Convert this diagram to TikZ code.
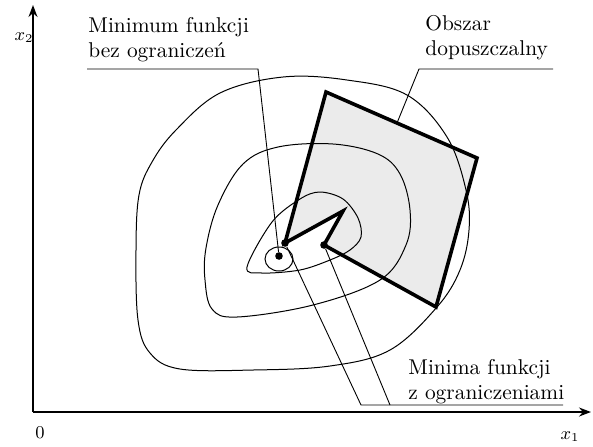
\documentclass[tikz,border=0pt]{standalone}
\usepackage{tikz}
\usetikzlibrary{arrows.meta}

\begin{document}
\begin{tikzpicture}[
  x=0.5pt, y=-0.5pt,
  contour/.style={line width=0.5pt},
  leader/.style={line width=0.45pt},
  axis/.style={line width=0.8pt, -{Stealth[length=6pt, width=4.5pt]}},
  region/.style={line width=1.8pt, line join=miter},
  dot/.style={circle, fill, inner sep=0pt, minimum size=3.8pt},
  lbl/.style={font=\fontsize{10.7}{12.6}\selectfont, align=left, anchor=north west, inner sep=0pt}
]
  \useasboundingbox (0,0) rectangle (593,446);

  % axes
  \coordinate (origin) at (33,412);
  \coordinate (xend) at (591,412);
  \coordinate (yend) at (33,5);
  \draw[axis] (origin) -- (xend);
  \draw[axis] (origin) -- (yend);
  \node[font=\small] (zero) at (40,433) {$0$};
  \node[font=\small] (xone) at (570,437) {$x_1$};
  \node[font=\small] (xtwo) at (24,38) {$x_2$};

  % feasible region (fill first, border later)
  \fill[gray!16] (326,92) -- (477,158) -- (436,307) -- (324,245) -- (343,211) -- (285,243) -- cycle;

  % level sets
  \draw[contour] plot[smooth cycle, tension=0.6] coordinates {
    (283,77) (347,80) (407,95) (447,137) (466,190) (469,230) (460,270)
    (437,307) (390,350) (330,366) (253,370) (180,369) (150,353) (138,320)
    (136,250) (139,195) (152,162) (176,130) (220,93)};
  \draw[contour] plot[smooth cycle, tension=0.6] coordinates {
    (333,144) (378,154) (400,174) (410,210) (406,245) (380,280) (313,305)
    (237,317) (212,309) (205,280) (206,248) (218,205) (243,164) (278,147)};
  \draw[contour] plot[smooth cycle, tension=0.55] coordinates {
    (247,267) (272,222) (300,199) (320,192) (343,199) (358,218) (361,237)
    (350,250) (330,260) (300,270) (262,273)};
  \draw[contour] (279,259) ellipse (14 and 12);

  \draw[region] (326,92) -- (477,158) -- (436,307) -- (324,245) -- (343,211) -- (285,243) -- cycle;

  % minima
  \node[dot] (umin) at (279,256) {};
  \node[dot] (cmina) at (285,243) {};
  \node[dot] (cminb) at (324,245) {};

  % labels
  \node[lbl] (lblmin) at (88,17) {Minimum funkcji\\bez ogranicze\'n};
  \node[lbl] (lblobszar) at (425,15) {Obszar\\dopuszczalny};
  \node[lbl] (lblminima) at (408,359) {Minima funkcji\\z ograniczeniami};

  % leader lines
  \coordinate (minleft) at (87,69);
  \coordinate (minknee) at (258,69);
  \coordinate (obszright) at (553,69);
  \coordinate (obszknee) at (419,69);
  \coordinate (obszedge) at (397,123);
  \coordinate (minimaright) at (563,405);
  \coordinate (minimakneea) at (361,405);
  \coordinate (minimakneeb) at (390,405);
  \draw[leader] (minleft) -- (minknee) -- (umin);
  \draw[leader] (obszright) -- (obszknee) -- (obszedge);
  \draw[leader] (minimaright) -- (minimakneea) -- (cmina);
  \draw[leader] (minimakneeb) -- (cminb);
\end{tikzpicture}
\end{document}
